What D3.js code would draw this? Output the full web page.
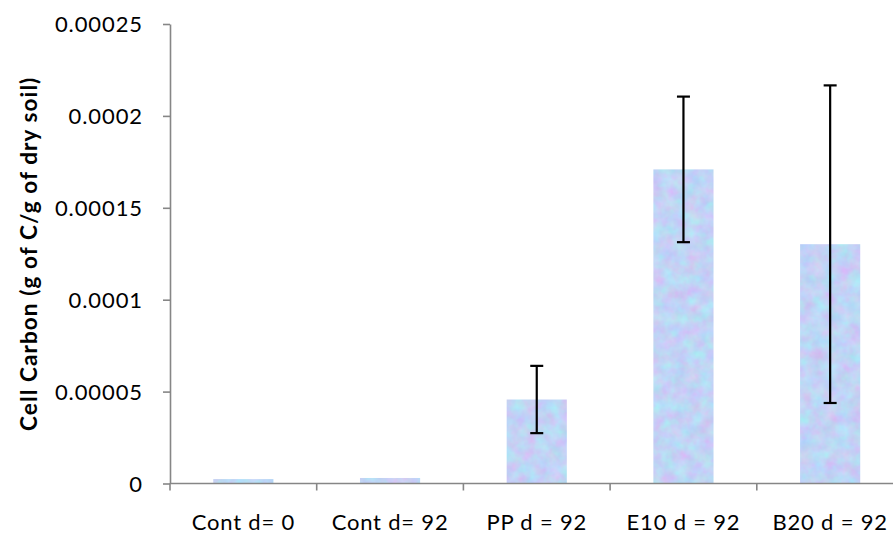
<!DOCTYPE html>
<html>
<head>
<meta charset="utf-8">
<script src="https://cdn.jsdelivr.net/npm/d3@7"></script>
<style>
  html, body { margin: 0; padding: 0; background: #fff; }
  svg { display: block; }
</style>
</head>
<body>
<div id="chart"></div>
<script>
// Cell carbon per gram of dry soil, by treatment
const categories = ["Cont d= 0", "Cont d= 92", "PP d = 92", "E10 d = 92", "B20 d = 92"];
const values = [0.0000024, 0.0000030, 0.0000457, 0.0001709, 0.0001302];
const errors = [null, null, 0.0000183, 0.0000396, 0.0000864];
const yTicks = [0, 0.00005, 0.0001, 0.00015, 0.0002, 0.00025];
const yTickLabels = ["0", "0.00005", "0.0001", "0.00015", "0.0002", "0.00025"];
const yTitle = "Cell Carbon (g of C/g of dry soil)";

const W = 893, H = 535;
const plotLeft = 170, plotTop = 24, plotBottom = 483.5;
const bandStep = 146.7;

const svg = d3.select("#chart").append("svg")
  .attr("width", W).attr("height", H);

// Mottled pastel fill for the bars
const defs = svg.append("defs");
const f = defs.append("filter").attr("id", "mottle")
  .attr("x", 0).attr("y", 0).attr("width", 1).attr("height", 1)
  .attr("color-interpolation-filters", "sRGB");
f.append("feTurbulence").attr("type", "fractalNoise")
  .attr("baseFrequency", 0.08).attr("numOctaves", 3).attr("seed", 7).attr("result", "noise");
f.append("feColorMatrix").attr("in", "noise").attr("type", "matrix")
  .attr("values", [
    "0.25 0 0 0 0.63",
    "-0.18 0.15 0 0 0.845",
    "0 0 0.08 0 0.92",
    "0 0 0 0 1"
  ].join(" ")).attr("result", "tex");
f.append("feComposite").attr("in", "tex").attr("in2", "SourceGraphic").attr("operator", "in");

const x = d3.scaleBand()
  .domain(categories)
  .range([plotLeft, plotLeft + bandStep * categories.length])
  .paddingInner(0.59).paddingOuter(0.295);

const y = d3.scaleLinear().domain([0, 0.00025]).range([plotBottom, plotTop]);

const axisColor = "#868686";
const font = "Lato, 'Open Sans', sans-serif";

// Bars
svg.append("g").selectAll("rect")
  .data(categories)
  .join("rect")
  .attr("x", d => x(d))
  .attr("width", x.bandwidth())
  .attr("y", (d, i) => y(values[i]))
  .attr("height", (d, i) => y(0) - y(values[i]))
  .attr("fill", "#c0d4f4")
  .attr("filter", "url(#mottle)");

// Y axis
const yAxis = d3.axisLeft(y)
  .tickValues(yTicks)
  .tickFormat((d, i) => yTickLabels[i])
  .tickSizeInner(7).tickSizeOuter(0).tickPadding(20);
const gy = svg.append("g").attr("transform", `translate(${plotLeft},0)`).call(yAxis);
gy.select(".domain").attr("stroke", axisColor).attr("stroke-width", 1.6);
gy.selectAll(".tick line").attr("stroke", axisColor).attr("stroke-width", 1.6);
gy.selectAll(".tick text").attr("fill", "#000").attr("font-family", font)
  .attr("font-size", 22).attr("letter-spacing", 0.9).attr("dy", "0.36em");

// X axis with ticks at category boundaries
const xAxis = d3.axisBottom(x).tickSize(0);
const gx = svg.append("g").attr("transform", `translate(0,${plotBottom})`).call(xAxis);
gx.select(".domain").attr("stroke", axisColor).attr("stroke-width", 1.6)
  .attr("d", `M${plotLeft},0H${plotLeft + bandStep * categories.length}`);
gx.selectAll(".tick text").attr("fill", "#000").attr("font-family", font)
  .attr("font-size", 22).attr("letter-spacing", 0.8)
  .attr("y", 46.5).attr("dy", 0);
const boundaries = d3.range(categories.length + 1).map(i => plotLeft + i * bandStep);
gx.append("g").selectAll("line")
  .data(boundaries)
  .join("line")
  .attr("x1", d => d).attr("x2", d => d)
  .attr("y1", 0).attr("y2", 7)
  .attr("stroke", axisColor).attr("stroke-width", 1.6);

// Error bars
const cap = 6.5;
const eb = svg.append("g").attr("stroke", "#000").attr("stroke-width", 2.2);
categories.forEach((c, i) => {
  if (errors[i] == null) return;
  const cx = x(c) + x.bandwidth() / 2;
  const hi = y(values[i] + errors[i]);
  const lo = y(values[i] - errors[i]);
  eb.append("line").attr("x1", cx).attr("x2", cx).attr("y1", hi).attr("y2", lo);
  eb.append("line").attr("x1", cx - cap).attr("x2", cx + cap).attr("y1", hi).attr("y2", hi);
  eb.append("line").attr("x1", cx - cap).attr("x2", cx + cap).attr("y1", lo).attr("y2", lo);
});

// Y axis title
svg.append("text")
  .attr("transform", `translate(37,${(plotTop + plotBottom) / 2}) rotate(-90)`)
  .attr("text-anchor", "middle")
  .attr("font-family", font)
  .attr("font-weight", "bold")
  .attr("font-size", 22.5)
  .attr("letter-spacing", 1.1)
  .text(yTitle);
</script>
</body>
</html>
